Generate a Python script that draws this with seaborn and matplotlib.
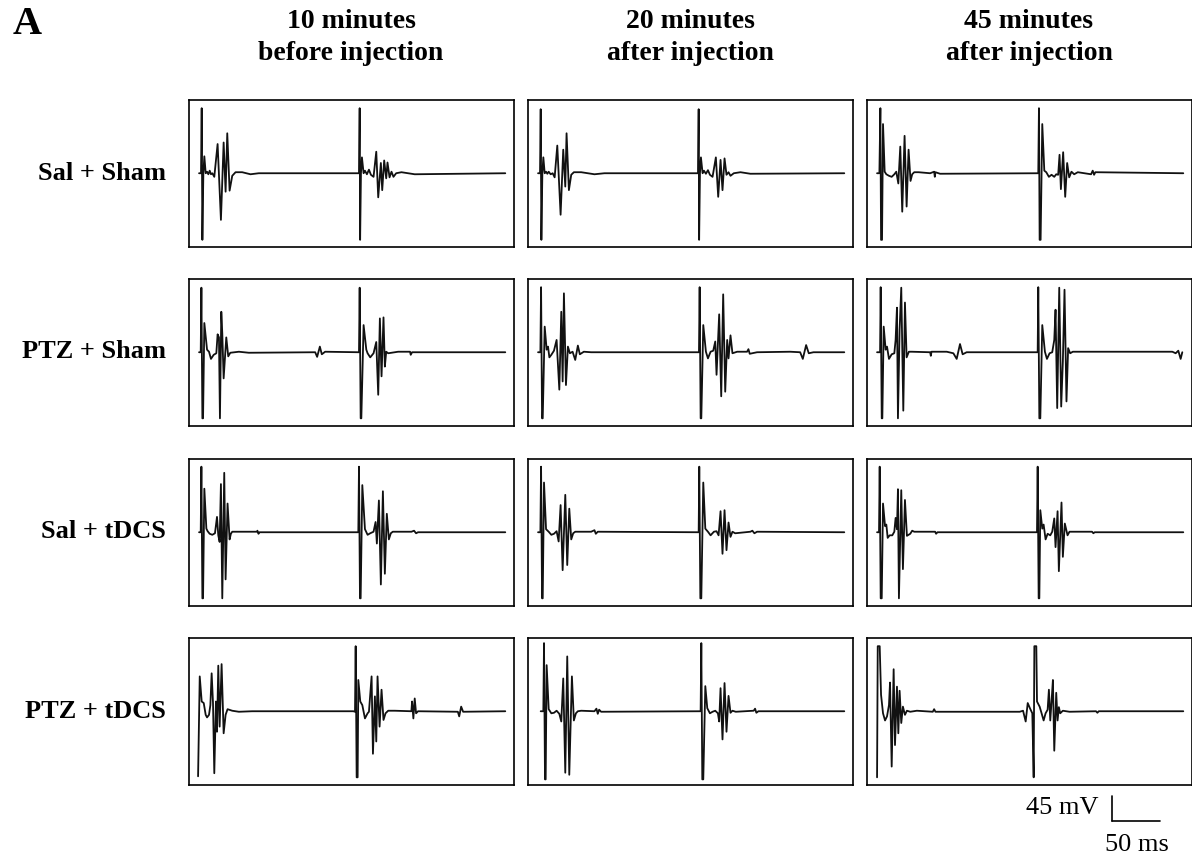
import matplotlib
matplotlib.use("Agg")
import matplotlib.pyplot as plt
import seaborn as sns
import pandas as pd

sns.set_style("white")
plt.rcParams["font.family"] = ["Liberation Serif", "DejaVu Serif"]
plt.rcParams["text.color"] = "black"

conditions = ["Sal + Sham", "PTZ + Sham", "Sal + tDCS", "PTZ + tDCS"]
timepoints = [("10 minutes", "before injection"), ("20 minutes", "after injection"), ("45 minutes", "after injection")]

# traces: (time ms, voltage mV), baseline = 0
sal_sham_10 = [(0, 0), (2.6, 0), (3.5, 127), (4.4, -130), (5.7, 0), (7.0, 33), (8.8, 0), (10.6, 3), (12.3, -2),
               (14.1, 5), (15.8, -2), (17.6, 0), (20.2, -7), (24.6, 57), (29.0, -91), (32.6, 60), (35.2, -36),
               (37.4, 78), (40.5, -34), (44.0, -5), (48.4, 2), (57.2, 2), (68.2, -2), (79.2, 0),
               (212.1, 0), (213.0, 127), (213.6, -130), (214.7, 0), (216.0, 31), (218.2, 0), (220.0, 5),
               (222.6, -2), (225.3, 7), (227.9, -3), (231.4, -7), (235.0, 42), (237.6, -47), (241.1, 20),
               (242.9, -33), (245.5, 25), (248.2, -10), (249.9, 21), (252.6, -8), (255.2, 3), (257.8, -7),
               (261.4, 0), (268.4, 2), (286.0, -2), (406.1, 0)]
sal_sham_20 = [(0, 0), (2.6, 0), (3.5, 125), (4.4, -130), (5.7, 0), (7.0, 31), (8.8, 0), (10.6, 3), (12.3, -1),
               (14.1, 3), (16.7, -2), (19.4, 0), (22.0, -8), (25.5, 54), (29.9, -81), (33.4, 46), (36.1, -26),
               (37.8, 78), (40.9, -33), (44.0, -3), (47.5, 2), (57.2, 2), (74.8, -2), (88.0, 0),
               (212.1, 0), (213.0, 125), (213.6, -130), (214.7, 0), (216.0, 31), (218.2, 0), (220.0, 5),
               (222.6, -1), (225.3, 6), (227.9, -3), (231.4, -7), (235.8, 31), (238.9, -46), (242.0, 26),
               (244.6, -33), (247.3, 29), (249.9, -3), (252.6, 2), (255.2, -5), (259.6, 0), (268.4, 2),
               (281.6, -1), (406.1, 0)]
sal_sham_45 = [(0, 0), (3.1, 0), (4.4, 127), (5.3, -130), (6.6, -130), (7.9, 96), (10.1, 3), (12.3, -2),
               (15.8, -5), (19.4, -7), (22.9, -2), (25.5, 3), (28.2, -20), (30.8, 52), (33.4, -75), (36.5, 73),
               (39.2, -65), (41.8, 46), (44.4, -15), (46.6, -2), (49.3, 2), (55.0, 2), (70.4, 0), (75.7, 3),
               (76.6, -7), (77.4, 2), (83.6, -1),
               (213.8, 0), (214.7, 127), (215.6, -130), (216.9, -130), (219.1, 96), (221.8, 5), (224.4, 2),
               (227.9, -7), (231.4, -3), (235.0, -7), (237.6, -2), (240.2, -3), (242.0, 36), (243.8, -31),
               (246.8, 41), (249.5, -46), (252.1, 20), (254.8, -8), (257.8, 3), (261.4, -2), (266.2, 2),
               (283.8, -2), (286.0, 5), (287.8, -3), (289.5, 2), (406.1, 0)]
ptz_sham_10 = [(0, 0), (2.2, 0), (3.1, 126), (4.4, -129), (5.3, -129), (7.0, 57), (10.6, 5), (13.2, 1),
               (15.8, -13), (19.4, -5), (22.9, -2), (24.6, 35), (26.4, 29), (27.7, -129), (29.5, 79), (30.8, 37),
               (32.6, -51), (36.1, 29), (38.7, -8), (41.4, -1), (52.8, 1), (66.0, -1), (154.0, 0), (156.6, -9),
               (160.2, 11), (162.8, -4), (167.2, 1),
               (212.1, 0), (213.0, 126), (214.3, -129), (215.2, -129), (218.2, 53), (221.8, 5), (223.5, -2),
               (227.0, -10), (231.4, -2), (235.0, 20), (237.6, -83), (239.8, 66), (242.0, -47), (244.6, 68),
               (246.4, -28), (248.2, 1), (250.8, -2), (264.0, 1), (279.8, 1), (280.7, -5), (282.5, 0), (406.1, 0)]
ptz_sham_20 = [(0, 0), (3.1, 0), (4.0, 127), (5.3, -129), (6.2, -129), (8.8, 50), (11.4, 5), (13.2, 11),
               (15.0, -10), (17.6, -5), (21.1, 3), (24.6, 24), (28.2, -73), (30.8, 79), (32.6, -57), (34.3, 115),
               (37.0, -64), (39.6, 11), (42.2, -2), (45.8, 1), (49.3, -15), (52.8, 13), (55.4, -4), (60.7, 1),
               (70.4, 0),
               (213.4, 0), (214.3, 127), (215.6, -129), (216.5, -129), (219.1, 53), (222.6, 1), (225.3, -12),
               (228.8, 1), (232.3, 3), (235.0, 21), (236.7, -44), (240.2, 74), (242.9, -86), (245.5, 113),
               (248.2, -77), (250.8, 24), (252.6, -12), (255.2, 33), (257.8, -2), (264.0, 1), (277.2, 1),
               (279.0, 6), (280.7, -3), (290.4, 0), (334.4, 1), (347.6, 0), (351.1, -13), (355.5, 14),
               (359.0, -2), (365.2, 0), (406.1, 0)]
ptz_sham_45 = [(0, 0), (4.0, 0), (4.8, 127), (6.2, -129), (7.0, -129), (8.8, 50), (11.4, 5), (13.2, 11),
               (15.8, -13), (19.4, -4), (22.9, -2), (24.6, 24), (26.4, 87), (27.7, -129), (29.9, 44), (32.1, 126),
               (34.8, -114), (37.0, 97), (39.2, -10), (42.2, 1), (46.2, 1), (70.4, 0), (71.3, -7), (72.2, 1),
               (92.4, 1), (101.2, -2), (105.6, -13), (110.0, 16), (113.5, -4), (118.8, 0),
               (213.0, 0), (213.8, 127), (215.2, -129), (216.5, -129), (219.1, 53), (222.6, 1), (225.3, -13),
               (228.8, -2), (232.3, 0), (235.0, 24), (236.7, 83), (238.9, -109), (241.6, 126), (244.2, -106),
               (246.4, -18), (248.6, 122), (251.2, -96), (253.4, 8), (256.1, -2), (259.6, 1), (391.6, 1),
               (396.0, -2), (399.5, 3), (402.6, -13), (404.8, 0)]
sal_tdcs_10 = [(0, 0), (2.2, 0), (3.1, 128), (4.4, -129), (5.3, -129), (7.0, 85), (9.7, 7), (11.4, 2),
               (14.1, -3), (17.6, -5), (21.1, -2), (23.8, 30), (25.5, -6), (27.3, -19), (29.0, 94), (30.8, -129),
               (33.4, 116), (35.2, -92), (37.8, 56), (40.5, -14), (42.2, -3), (44.0, 1), (52.8, 1), (76.6, 1),
               (77.4, 3), (78.8, -3), (80.1, 0),
               (211.2, 0), (212.1, 128), (213.4, -129), (214.3, -129), (216.5, 92), (220.0, 6), (223.5, -5),
               (227.0, -2), (231.4, 1), (234.1, 20), (235.8, -22), (238.5, 62), (241.1, -102), (243.8, 80),
               (246.4, -81), (249.0, 36), (251.7, -14), (254.3, -2), (256.9, 1), (281.6, 1), (285.1, 3),
               (287.8, -2), (290.4, 0), (406.1, 0)]
sal_tdcs_20 = [(0, 0), (3.1, 0), (4.0, 128), (5.3, -129), (6.2, -129), (7.9, 97), (10.6, 6), (14.1, 1),
               (17.6, -5), (21.1, -3), (24.6, 2), (27.3, -18), (29.9, 53), (32.6, -74), (36.1, 73), (38.7, -64),
               (41.4, 46), (44.0, -14), (46.6, -2), (49.3, 1), (70.4, 1), (74.8, 4), (76.6, -3), (79.2, 1),
               (213.0, 0), (213.8, 128), (215.2, -129), (216.5, -129), (219.1, 97), (221.8, 7), (225.3, 1),
               (228.8, -6), (233.2, 1), (236.7, 2), (239.4, -6), (242.0, 41), (244.6, -42), (247.3, 43),
               (249.9, -35), (252.6, 19), (255.2, -9), (257.8, 1), (261.4, -2), (281.6, 1), (284.2, 3),
               (286.9, -2), (290.4, 1), (406.1, 0)]
sal_tdcs_45 = [(0, 0), (2.6, 0), (3.5, 128), (4.8, -129), (6.2, -129), (7.9, 56), (10.6, 12), (12.3, 15),
               (14.1, -11), (16.7, -6), (20.2, -6), (22.9, 1), (24.6, 28), (26.4, 6), (27.7, 84), (29.0, -129),
               (32.1, 82), (34.3, -72), (37.0, 63), (39.6, -7), (44.0, -3), (46.6, 3), (49.3, 1), (77.0, 1),
               (78.3, -3), (80.1, 0),
               (212.1, 0), (213.0, 128), (214.3, -129), (215.2, -129), (216.5, 43), (219.1, 7), (220.9, 15),
               (223.5, -14), (226.2, -3), (229.7, -6), (232.3, 1), (235.0, 27), (236.7, -29), (239.4, 41),
               (241.1, -76), (244.6, 58), (246.4, -48), (249.0, 17), (252.6, -6), (255.2, 1), (285.1, 1),
               (286.9, -2), (288.6, 0), (406.1, 0)]
ptz_tdcs_10 = [(-1.3, -127), (0.9, 68), (3.5, 19), (6.2, 16), (8.8, -7), (10.6, -12), (13.2, -7), (15.0, 12),
               (16.7, 74), (18.5, 16), (20.2, -121), (22.4, 19), (23.8, -40), (25.5, 89), (27.3, -30), (29.9, 92),
               (32.6, -43), (35.2, -7), (37.8, 4), (44.0, 1), (52.8, -1), (70.4, 0),
               (204.6, 0), (206.8, -1), (207.7, 127), (209.0, -129), (210.3, -129), (211.2, 61), (213.8, 19),
               (216.5, 12), (220.0, -14), (223.5, -4), (225.3, -1), (228.8, 68), (230.6, -83), (233.2, 29),
               (235.0, -59), (236.7, 68), (239.4, -30), (242.0, 42), (244.6, -17), (247.3, -4), (250.8, 1),
               (259.6, 1), (281.6, 0), (282.5, 19), (284.2, -14), (286.0, 25), (287.8, -4), (290.4, 0),
               (343.2, -1), (345.0, -10), (347.6, 9), (350.2, -1), (406.1, 0)]
ptz_tdcs_20 = [(3.5, 0), (7.0, 0), (7.9, 133), (9.2, -133), (10.1, -133), (11.4, 90), (14.1, 4), (17.6, -4),
               (21.1, -3), (24.6, 1), (28.2, -5), (30.8, -20), (33.4, 64), (36.1, -120), (38.7, 107), (41.4, -124),
               (44.9, 68), (47.5, -18), (50.2, -4), (52.8, 0), (57.2, 1), (74.8, 0), (77.4, 5), (79.2, -5),
               (81.0, 3), (83.6, -1),
               (215.6, 0), (216.5, 133), (217.8, -133), (219.1, -133), (221.8, 49), (224.4, 6), (227.9, -4),
               (231.4, -1), (235.0, 1), (238.5, -4), (240.2, -20), (242.0, 45), (244.6, -55), (247.3, 55),
               (249.9, -40), (252.6, 30), (255.2, -3), (257.8, 1), (262.2, -1), (286.0, 1), (287.8, 5),
               (289.5, -3), (292.2, 0), (406.1, 0)]
ptz_tdcs_45 = [(0, -129), (0.9, 127), (3.5, 127), (5.3, 32), (7.9, -4), (10.6, -18), (13.2, -10), (15.8, 12),
               (17.2, 56), (19.4, -108), (22.0, 82), (23.8, -66), (26.4, 48), (28.2, -43), (29.9, 40),
               (32.1, -23), (34.3, 9), (37.0, -7), (39.6, 1), (44.0, -1), (52.8, 1), (73.9, -1), (75.7, 4),
               (77.4, -1), (189.2, -1), (193.6, 1), (197.1, -20), (199.8, 16), (203.3, 4), (205.9, -4),
               (207.7, -129), (208.6, 127), (211.2, 127), (212.1, 19), (215.6, 9), (218.2, -4), (220.9, -18),
               (223.5, -4), (226.2, 3), (227.9, 42), (229.7, -18), (231.4, 19), (233.2, 61), (235.0, -77),
               (237.6, 36), (239.4, -18), (241.1, 8), (242.9, -4), (246.4, 1), (255.2, -1), (290.4, 0),
               (292.2, -3), (294.0, 0), (406.1, 0)]

traces = [[sal_sham_10, sal_sham_20, sal_sham_45],
          [ptz_sham_10, ptz_sham_20, ptz_sham_45],
          [sal_tdcs_10, sal_tdcs_20, sal_tdcs_45],
          [ptz_tdcs_10, ptz_tdcs_20, ptz_tdcs_45]]

W, H = 1192, 862
fig = plt.figure(figsize=(W / 100, H / 100), dpi=100)

col_left = [188.5, 527.5, 866.5]
row_top = [101, 280, 460, 639]
ax_w, ax_h = 325, 147

for i, cond in enumerate(conditions):
    for j in range(len(timepoints)):
        ax = fig.add_axes([col_left[j] / W, 1 - (row_top[i] + ax_h) / H, ax_w / W, ax_h / H])
        df = pd.DataFrame(traces[i][j], columns=["t", "v"])
        sns.lineplot(data=df, x="t", y="v", ax=ax, sort=False, estimator=None,
                     color="#111111", lw=1.3)
        ax.set_xlim(-14, 417)
        ax.set_ylim(-144, 143)
        ax.set_xticks([])
        ax.set_yticks([])
        ax.set_xlabel("")
        ax.set_ylabel("")
        for s in ax.spines.values():
            s.set_color("black")
            s.set_linewidth(1.2)
    # row label
    fig.text(166 / W, 1 - (row_top[i] + 72) / H, cond, ha="right", va="center",
             fontsize=19, fontweight="bold")

for j, (line1, line2) in enumerate(timepoints):
    xc = (col_left[j] + ax_w / 2) / W
    fig.text(xc, 1 - 22 / H, line1, ha="center", va="center", fontsize=20, fontweight="bold")
    fig.text(xc, 1 - 54 / H, line2, ha="center", va="center", fontsize=20, fontweight="bold")

fig.text(27 / W, 1 - 25 / H, "A", ha="center", va="center", fontsize=29, fontweight="bold")

# scale bar (45 mV / 50 ms)
fig.add_artist(plt.Line2D([1112 / W, 1112 / W], [1 - 797 / H, 1 - 822 / H], color="black", lw=1.2))
fig.add_artist(plt.Line2D([1112 / W, 1160 / W], [1 - 822 / H, 1 - 822 / H], color="black", lw=1.2))
fig.text(1099 / W, 1 - 808 / H, "45 mV", ha="right", va="center", fontsize=19)
fig.text(1137 / W, 1 - 845 / H, "50 ms", ha="center", va="center", fontsize=19)

fig.savefig("out.png", dpi=100)
